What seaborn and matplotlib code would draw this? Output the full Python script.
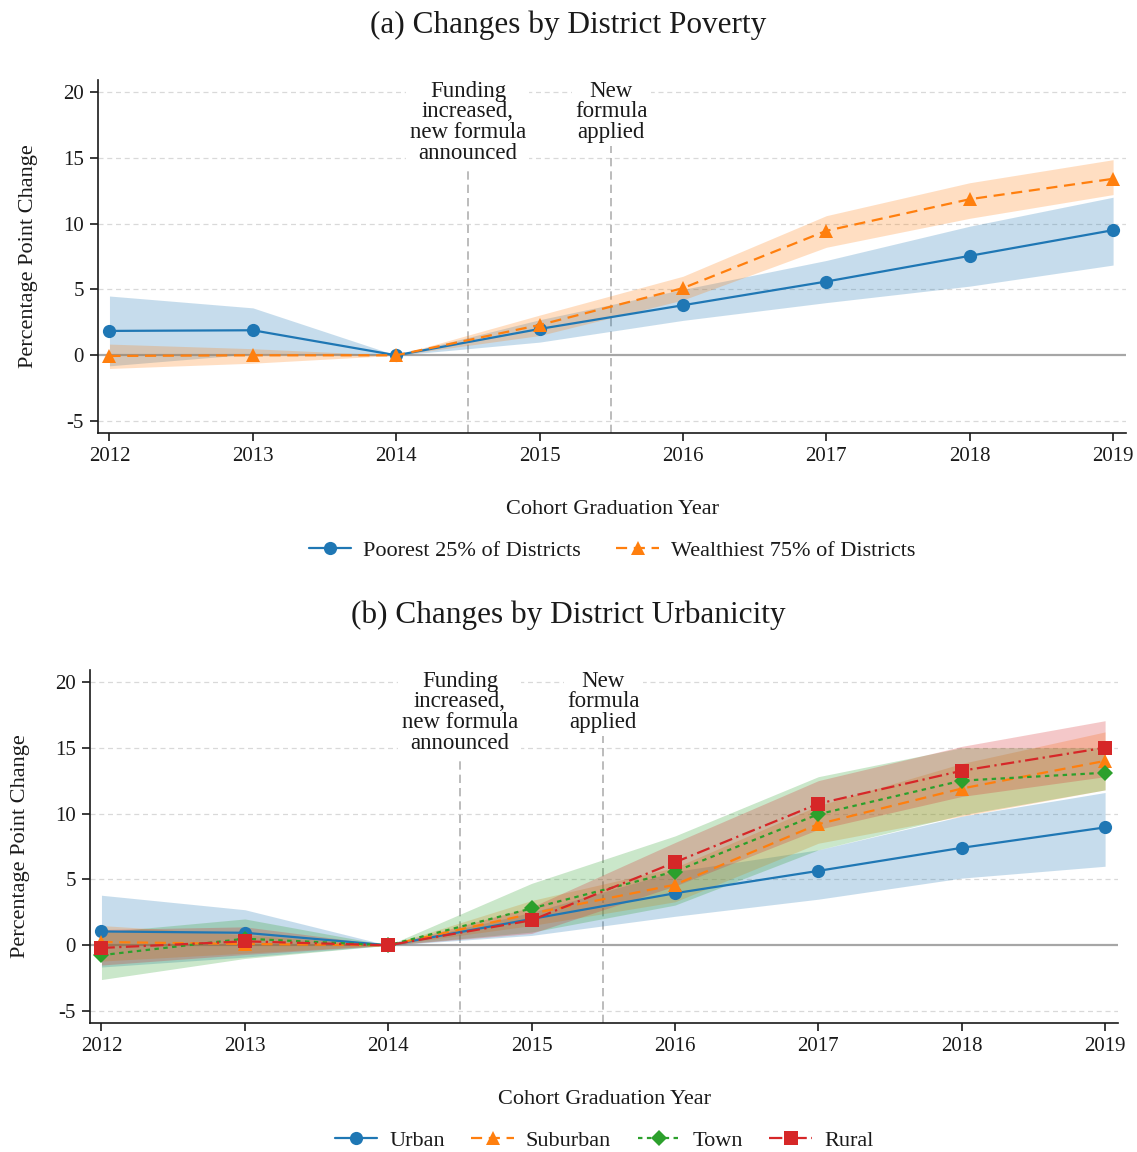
import numpy as np
import pandas as pd
import matplotlib
matplotlib.use("Agg")
import matplotlib.pyplot as plt
import seaborn as sns

# ---------------- data ----------------
years = [2012, 2013, 2014, 2015, 2016, 2017, 2018, 2019]

# Panel (a): district poverty
poorest = [1.85, 1.9, 0.0, 2.0, 3.8, 5.6, 7.55, 9.5]
poorest_lo = [-0.8, 0.1, 0.0, 1.0, 2.65, 4.0, 5.25, 6.85]
poorest_hi = [4.5, 3.6, 0.0, 2.7, 5.0, 7.2, 9.8, 12.0]
wealthiest = [-0.05, 0.0, 0.0, 2.3, 5.1, 9.45, 11.85, 13.4]
wealthiest_lo = [-1.0, -0.6, 0.0, 1.5, 4.2, 8.2, 10.4, 12.2]
wealthiest_hi = [0.85, 0.5, 0.0, 3.05, 6.0, 10.6, 13.1, 14.85]

# Panel (b): district urbanicity
urban = [1.05, 0.95, 0.0, 2.0, 3.95, 5.65, 7.4, 8.95]
urban_lo = [-1.65, -0.9, 0.0, 0.75, 2.2, 3.5, 5.1, 6.0]
urban_hi = [3.8, 2.7, 0.0, 2.5, 5.6, 7.25, 9.8, 11.6]
suburban = [0.25, 0.1, 0.0, 2.4, 4.6, 9.2, 11.9, 14.0]
suburban_lo = [-1.2, -0.6, 0.0, 1.5, 3.3, 7.75, 9.8, 11.8]
suburban_hi = [1.5, 0.8, 0.0, 3.4, 5.9, 10.6, 13.8, 16.2]
town = [-0.75, 0.5, 0.0, 2.8, 5.6, 9.95, 12.5, 13.1]
town_lo = [-2.6, -1.0, 0.0, 1.0, 3.05, 7.25, 9.9, 11.8]
town_hi = [1.0, 2.0, 0.0, 4.7, 8.3, 12.8, 15.0, 15.0]
rural = [-0.2, 0.3, 0.0, 1.9, 6.3, 10.75, 13.25, 15.0]
rural_lo = [-1.5, -0.7, 0.0, 0.9, 4.5, 8.8, 11.3, 12.8]
rural_hi = [1.2, 1.4, 0.0, 2.9, 7.8, 12.5, 15.1, 17.05]

yticks = [-5, 0, 5, 10, 15, 20]
events = [2014.5, 2015.5]
event_labels = ["Funding\nincreased,\nnew formula\nannounced", "New\nformula\napplied"]
titles = ["(a) Changes by District Poverty", "(b) Changes by District Urbanicity"]

# ---------------- style ----------------
sns.set_theme(style="ticks")
FONT = ["Liberation Serif", "DejaVu Serif"]
plt.rcParams["font.family"] = FONT
plt.rcParams["axes.unicode_minus"] = False

blue, orange, green, red = "#1f77b4", "#ff7f0e", "#2ca02c", "#d62728"
INK = "#1a1a1a"

fig = plt.figure(figsize=(11.37, 11.52), dpi=100)
W, H = 1137, 1152
ax1 = fig.add_axes([98 / W, 1 - 433 / H, (1126 - 98) / W, (433 - 80) / H])
ax2 = fig.add_axes([90 / W, 1 - 1023 / H, (1118 - 90) / W, (1023 - 670) / H])

panels = [
    (ax1, [
        ("Poorest 25% of Districts", poorest, poorest_lo, poorest_hi, blue, "o", None, "-"),
        ("Wealthiest 75% of Districts", wealthiest, wealthiest_lo, wealthiest_hi, orange, "^", (5, 3), "--"),
    ], 1.6),
    (ax2, [
        ("Urban", urban, urban_lo, urban_hi, blue, "o", None, "-"),
        ("Suburban", suburban, suburban_lo, suburban_hi, orange, "^", (5, 3), "--"),
        ("Town", town, town_lo, town_hi, green, "D", (2, 2), ":"),
        ("Rural", rural, rural_lo, rural_hi, red, "s", (6, 2, 1, 2), "-."),
    ], 1.2),
]

for ax, series, colsp in panels:
    ax.axhline(0, color="#a6a6a6", lw=1.6, zorder=1)
    for yt in yticks:
        if yt != 0:
            ax.axhline(yt, color="#d9d9d9", lw=0.9, ls=(0, (4, 3)), zorder=0)
    for name, vals, lo, hi, col, mk, dash, ls in series:
        ax.fill_between(years, lo, hi, color=col, alpha=0.25, lw=0, zorder=2)
    for name, vals, lo, hi, col, mk, dash, ls in series:
        df = pd.DataFrame({"year": years, "val": vals})
        sns.lineplot(data=df, x="year", y="val", ax=ax, color=col, marker=mk,
                     markersize=9.5 if mk != "D" else 8.5, markeredgewidth=0,
                     linestyle=ls, lw=1.6, zorder=4, label=name)
        if dash is not None:
            ax.lines[-1].set_dashes(dash)
    for ev, txt in zip(events, event_labels):
        ax.axvline(ev, color="#b0b0b0", lw=1.2, ls=(0, (5, 3)), zorder=1)
        ax.text(ev, 20.85, txt, ha="center", va="top", fontsize=16.5,
                linespacing=0.98, color=INK, zorder=5,
                bbox=dict(boxstyle="square,pad=0.15", fc="white", ec="none"))
    ax.set_xlim(2011.92, 2019.09)
    ax.set_ylim(-5.9, 20.9)
    ax.set_xticks(years)
    ax.set_xticklabels([str(y) for y in years])
    ax.set_yticks(yticks)
    ax.tick_params(axis="both", direction="out", length=6, width=1.2, labelsize=15,
                   colors=INK, pad=4)
    sns.despine(ax=ax)
    for sp in ["left", "bottom"]:
        ax.spines[sp].set_color(INK)
        ax.spines[sp].set_linewidth(1.2)
    ax.set_ylabel("Percentage Point Change", fontsize=16, color=INK)
    ax.yaxis.set_label_coords(-0.058, 0.5)
    ax.set_xlabel("Cohort Graduation Year", fontsize=16, color=INK)
    ax.xaxis.set_label_coords(0.5, -0.19)
    leg = ax.legend(loc="center", bbox_to_anchor=(0.5, -0.334), ncol=len(series),
                    frameon=False, fontsize=16, handlelength=1.9, columnspacing=colsp,
                    handletextpad=0.55)
    for t in leg.get_texts():
        t.set_color(INK)

fig.text(0.5, 1 - 25 / H, titles[0], ha="center", va="center", fontsize=22.5, color=INK)
fig.text(0.5, 1 - 615 / H, titles[1], ha="center", va="center", fontsize=22.5, color=INK)

fig.savefig("out.png", dpi=100, facecolor="white")
